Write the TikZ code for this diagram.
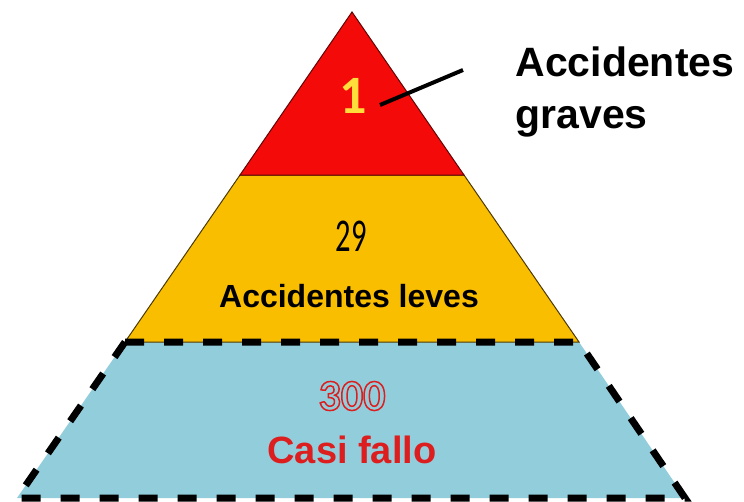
\documentclass[tikz,border=0pt]{standalone}
\usepackage{fontspec}
\setmainfont{Liberation Sans}
\newfontfamily\numfont{Carlito}
\definecolor{topred}{RGB}{245, 10, 10}
\definecolor{midorange}{RGB}{250, 190, 0}
\definecolor{baseblue}{RGB}{146, 205, 220}
\definecolor{numyellow}{RGB}{255, 222, 60}
\definecolor{textred}{RGB}{220, 30, 30}
\usetikzlibrary{positioning, calc}
\newcommand{\hollow}[1]{\special{pdf:literal direct 1 Tr 1.5 w}#1\special{pdf:literal direct 0 Tr}}

\begin{document}
\begin{tikzpicture}[x=1pt, y=-1pt]
  \useasboundingbox (0, 0) rectangle (744, 501);
  % bands
  \fill[baseblue] (125, 342) -- (579, 342) -- (685, 498) -- (17, 498) -- cycle;
  \draw[fill=midorange, draw=black!70!midorange, line width=1pt] (240, 175) -- (464, 175) -- (579, 342) -- (125, 342) -- cycle;
  \draw[fill=topred, draw=black!60!topred, line width=1pt] (352, 12) -- (464, 175) -- (240, 175) -- cycle;
  \draw[line width=7pt, dash pattern=on 19pt off 20pt] (125, 342) -- (579, 342) -- (685, 498) -- (17, 498) -- cycle;
  % labels
  \node[font=\numfont\bfseries\fontsize{54}{54}\selectfont, text=numyellow] (one) at (353, 96) {1};
  \node[font=\numfont\fontsize{47}{47}\selectfont, xscale=0.65] (twentynine) at (351, 236) {29};
  \node[font=\bfseries\fontsize{32}{32}\selectfont] (leves) at (349, 296) {Accidentes leves};
  \node[font=\numfont\bfseries\fontsize{44}{44}\selectfont, text=textred] (threehundred) at (352, 396) {\hollow{300}};
  \node[font=\bfseries\fontsize{38}{38}\selectfont, text=textred] (fallo) at (352, 450) {Casi fallo};
  \node[font=\bfseries\fontsize{41}{52}\selectfont, align=left, anchor=west] (graves) at (512, 92) {Accidentes\\graves};
  \coordinate (ptr) at (380, 105);
  \coordinate (bend) at (463, 70);
  \draw[line width=4pt] (ptr) -- (bend);
\end{tikzpicture}
\end{document}
